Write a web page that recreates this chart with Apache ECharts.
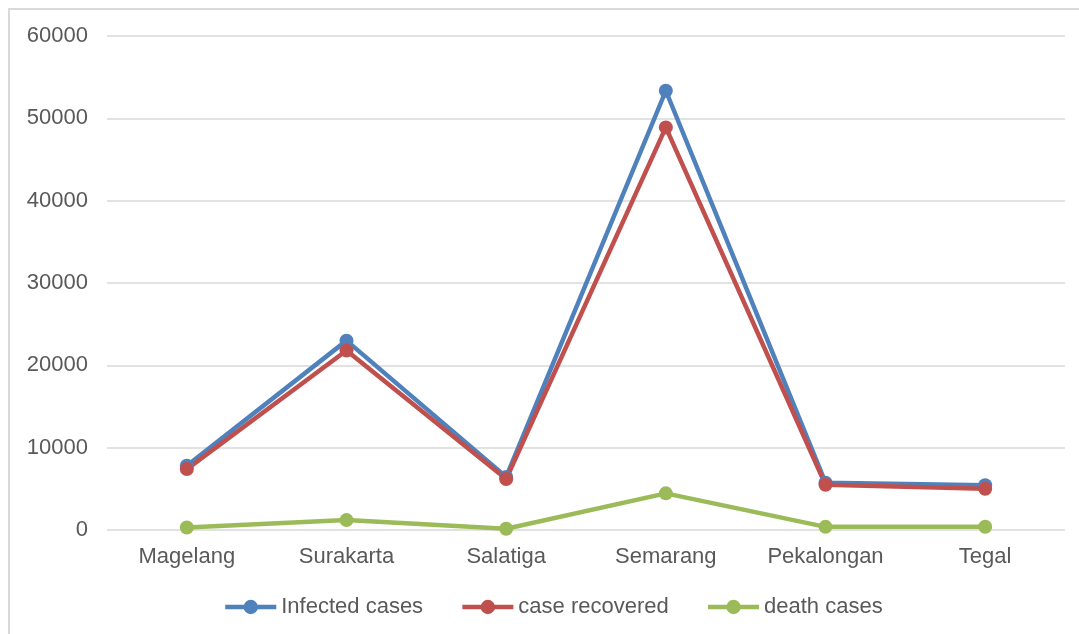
<!DOCTYPE html>
<html>
<head>
<meta charset="utf-8">
<script src="https://cdn.jsdelivr.net/npm/echarts@6/dist/echarts.min.js"></script>
<style>
html,body{margin:0;padding:0;background:#fff;}
#chart{width:1079px;height:634px;}
</style>
</head>
<body>
<div id="chart"></div>
<script>
const categories = ["Magelang","Surakarta","Salatiga","Semarang","Pekalongan","Tegal"];
const infected = [7800, 23000, 6450, 53350, 5750, 5450];
const recovered = [7400, 21800, 6200, 48900, 5500, 5000];
const deaths = [300, 1200, 160, 4450, 380, 400];
const yTicks = {min: 0, max: 60000, interval: 10000};

const chart = echarts.init(document.getElementById('chart'));
const font = 'Liberation Sans, Arial, sans-serif';
function series(name, data, color){
  return {
    name, type:'line', data,
    symbol:'circle', symbolSize:14,
    lineStyle:{width:4.5, color},
    itemStyle:{color},
    emphasis:{disabled:true},
    animation:false
  };
}
chart.setOption({
  animation:false,
  graphic:[{type:'rect', shape:{x:9, y:9, width:2000, height:2000}, style:{fill:'none', stroke:'#d9d9d9', lineWidth:2}, silent:true}],
  grid:{left:107, right:14, top:36, bottom:104, containLabel:false},
  legend:{
    bottom:11, left:218, itemWidth:51, itemHeight:18, itemGap:37,
    lineStyle:{width:4.5},
    textStyle:{fontFamily:font, fontSize:22, color:'#595959'},
    data: ['Infected cases','case recovered','death cases']
  },
  xAxis:{
    type:'category', data:categories, boundaryGap:true,
    axisLine:{show:false}, axisTick:{show:false},
    axisLabel:{fontFamily:font, fontSize:22, color:'#595959', margin:16}
  },
  yAxis:{
    type:'value', min:yTicks.min, max:yTicks.max, interval:yTicks.interval,
    axisLine:{show:false}, axisTick:{show:false},
    splitLine:{lineStyle:{color:'#d9d9d9', width:1.5}},
    axisLabel:{fontFamily:font, fontSize:22, color:'#595959', margin:19, formatter: v => String(v)}
  },
  series:[
    series('Infected cases', infected, '#4f81bd'),
    series('case recovered', recovered, '#c0504d'),
    series('death cases', deaths, '#9bbb59')
  ]
});
</script>
</body>
</html>
